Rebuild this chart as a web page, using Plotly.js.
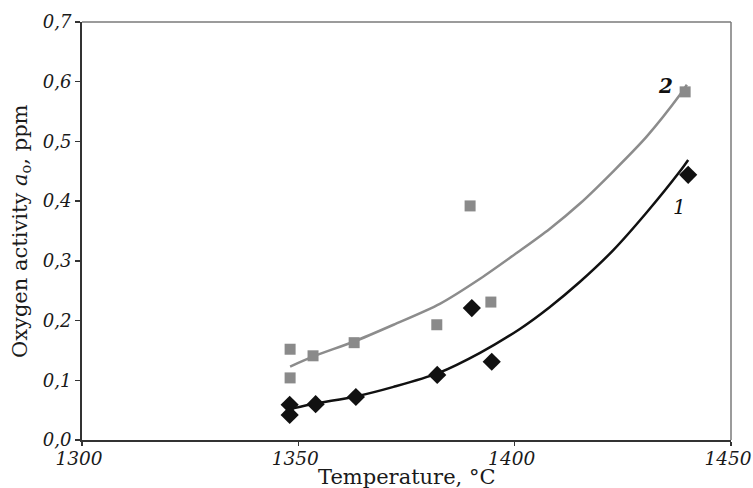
<!DOCTYPE html>
<html>
<head>
<meta charset="utf-8">
<script src="https://cdn.plot.ly/plotly-3.0.1.min.js"></script>
<style>html,body{margin:0;padding:0;background:#fff;}#chart{width:753px;height:488px;}</style>
</head>
<body>
<div id="chart"></div>
<script>
// Measured points, series 1 (black diamonds)
const temp1 = [1348, 1348, 1354, 1363.3, 1382.1, 1390.1, 1394.7, 1440.1];
const act1  = [0.059, 0.042, 0.060, 0.072, 0.109, 0.221, 0.131, 0.444];
// Measured points, series 2 (gray squares)
const temp2 = [1348.1, 1348.1, 1353.4, 1362.9, 1382, 1389.7, 1394.5, 1439.4];
const act2  = [0.152, 0.104, 0.141, 0.163, 0.193, 0.392, 0.231, 0.583];
// Fitted curve 1
const fitT1 = [1348.8, 1354, 1363.3, 1372, 1382.3, 1392, 1401.2, 1408, 1415.1, 1422.8, 1430.5, 1438.2, 1440.1];
const fitA1 = [0.053, 0.061, 0.073, 0.089, 0.112, 0.146, 0.186, 0.222, 0.265, 0.318, 0.381, 0.450, 0.469];
// Fitted curve 2
const fitT2 = [1348.1, 1353.5, 1362.9, 1372, 1382.7, 1392, 1401.2, 1408, 1415.1, 1422.8, 1430.5, 1438.2, 1439.8];
const fitA2 = [0.123, 0.140, 0.165, 0.193, 0.228, 0.270, 0.317, 0.353, 0.396, 0.450, 0.508, 0.578, 0.595];
// Axis ticks
const xTicks = [1300, 1350, 1400, 1450];
const yTicks = [0, 0.1, 0.2, 0.3, 0.4, 0.5, 0.6, 0.7];
const curveLabels = [{t: 1434.9, a: 0.592, text: "<b>2</b>"}, {t: 1438.2, a: 0.391, text: "1"}];
const xTitle = "Temperature, °C";
const yTitle = "Oxygen activity <i>a</i><sub>o</sub>, ppm";

const serif = "DejaVu Serif, Liberation Serif, serif";

const traces = [
  {x: fitT2, y: fitA2, mode: "lines", line: {color: "#8c8c8c", width: 2.5, shape: "spline", smoothing: 0.8}, hoverinfo: "skip"},
  {x: fitT1, y: fitA1, mode: "lines", line: {color: "#111111", width: 2.5, shape: "spline", smoothing: 0.8}, hoverinfo: "skip"},
  {x: temp2, y: act2, mode: "markers", marker: {symbol: "square", size: 11, color: "#8a8a8a"}},
  {x: temp1, y: act1, mode: "markers", marker: {symbol: "diamond", size: 14, color: "#111111"}}
];

const layout = {
  width: 753, height: 488,
  margin: {l: 82, r: 22, t: 22, b: 48},
  showlegend: false,
  paper_bgcolor: "#ffffff", plot_bgcolor: "#ffffff",
  separators: ", ",
  font: {family: serif, color: "#222"},
  xaxis: {
    range: [1300, 1450], tickvals: xTicks, ticktext: xTicks.map(String),
    showgrid: false, zeroline: false, showline: true, linecolor: "#333", linewidth: 2,
    ticks: "outside", ticklen: 4, tickcolor: "#333", tickwidth: 1.5,
    ticklabeloverflow: "allow", ticklabelstandoff: -3, ticklabelshift: -3,
    tickfont: {family: serif, size: 18.5, style: "italic", color: "#1a1a1a"}
  },
  yaxis: {
    range: [0, 0.7], tickvals: yTicks, tickformat: ".1f",
    showgrid: false, zeroline: false, showline: true, linecolor: "#333", linewidth: 2,
    ticks: "outside", ticklen: 5, tickcolor: "#333", tickwidth: 1.5,
    ticklabeloverflow: "allow",
    tickfont: {family: serif, size: 18, style: "italic", color: "#1a1a1a"}
  },
  shapes: [
    {type: "line", xref: "paper", yref: "paper", x0: 0, x1: 1, y0: 1, y1: 1, line: {color: "#7a7a7a", width: 1.5}},
    {type: "line", xref: "paper", yref: "paper", x0: 1, x1: 1, y0: 0, y1: 1, line: {color: "#7a7a7a", width: 1.5}}
  ],
  annotations: curveLabels.map(c => ({
    x: c.t, y: c.a, xref: "x", yref: "y", text: c.text, showarrow: false,
    font: {family: serif, size: 20, style: "italic", color: "#111"}
  })).concat([
    {x: 0.5, y: 0, xref: "paper", yref: "paper", yshift: -37, xanchor: "center", yanchor: "middle",
     text: xTitle, showarrow: false, font: {family: serif, size: 21, color: "#1a1a1a"}},
    {x: 0, y: 0.5, xref: "paper", yref: "paper", xshift: -61, xanchor: "center", yanchor: "middle",
     textangle: -90, text: yTitle, showarrow: false, font: {family: serif, size: 21, color: "#1a1a1a"}}
  ])
};

Plotly.newPlot("chart", traces, layout, {displayModeBar: false, staticPlot: true});
</script>
</body>
</html>
